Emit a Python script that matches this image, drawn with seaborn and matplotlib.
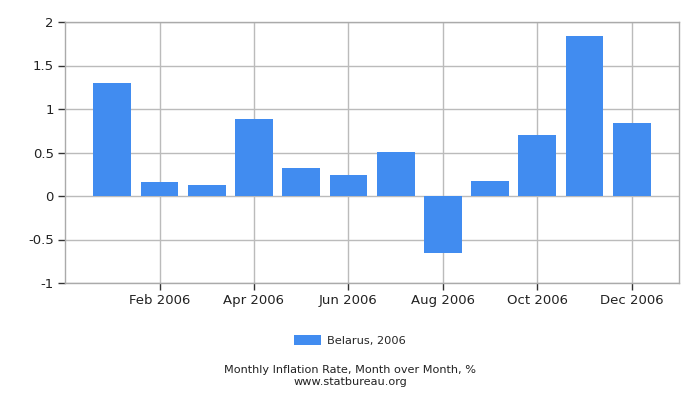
import matplotlib
matplotlib.use("Agg")
import matplotlib.pyplot as plt
import seaborn as sns
import pandas as pd
import numpy as np

months = ["Jan 2006", "Feb 2006", "Mar 2006", "Apr 2006", "May 2006", "Jun 2006",
          "Jul 2006", "Aug 2006", "Sep 2006", "Oct 2006", "Nov 2006", "Dec 2006"]
values = [1.30, 0.16, 0.13, 0.88, 0.32, 0.24, 0.51, -0.66, 0.17, 0.70, 1.84, 0.84]
series_label = "Belarus, 2006"
tick_labels = ["Feb 2006", "Apr 2006", "Jun 2006", "Aug 2006", "Oct 2006", "Dec 2006"]
y_ticks = [-1, -0.5, 0, 0.5, 1, 1.5, 2]
y_tick_labels = ["-1", "-0.5", "0", "0.5", "1", "1.5", "2"]

sns.set_style("white")
plt.rcParams['font.family'] = ['DejaVu Sans']

df = pd.DataFrame({"month": months, "value": values, "series": series_label})

fig = plt.figure(figsize=(7, 4), dpi=100)
ax = fig.add_axes([0.093, 0.2925, 0.877, 0.6525])

sns.barplot(data=df, x="month", y="value", hue="series", order=months,
            palette=["#418CF0"], width=0.8, ax=ax, legend=True, saturation=1,
            linewidth=0, edgecolor="none")

ax.set_xlim(-1, 12)
ax.set_ylim(-1, 2)
ax.set_axisbelow(True)
tick_pos = [months.index(t) for t in tick_labels]
ax.set_xticks(tick_pos)
ax.set_xticklabels(tick_labels, fontsize=9.5, color="#222222")
ax.set_yticks(y_ticks)
ax.set_yticklabels(y_tick_labels, fontsize=9.5, color="#222222")
ax.grid(True, color="#BBBBBB", linewidth=1)
for s in ax.spines.values():
    s.set_color("#AAAAAA")
    s.set_linewidth(1)
ax.tick_params(axis="both", which="both", direction="out", length=5, width=1,
               color="#333333", pad=3, bottom=True, left=True)
ax.tick_params(axis="x", pad=3)
ax.set_xlabel("")
ax.set_ylabel("")

handles, labels = ax.get_legend_handles_labels()
ax.legend_.remove()
fig.legend(handles, labels, loc="center", bbox_to_anchor=(0.5, 0.148), frameon=False,
           fontsize=8.2, handlelength=2.4, handleheight=0.9, handletextpad=0.5)

fig.text(0.5, 0.074, "Monthly Inflation Rate, Month over Month, %", ha="center", va="center",
         fontsize=8.1, color="#222222")
fig.text(0.5, 0.046, "www.statbureau.org", ha="center", va="center",
         fontsize=8.1, color="#222222")

fig.savefig("out.png", dpi=100)
